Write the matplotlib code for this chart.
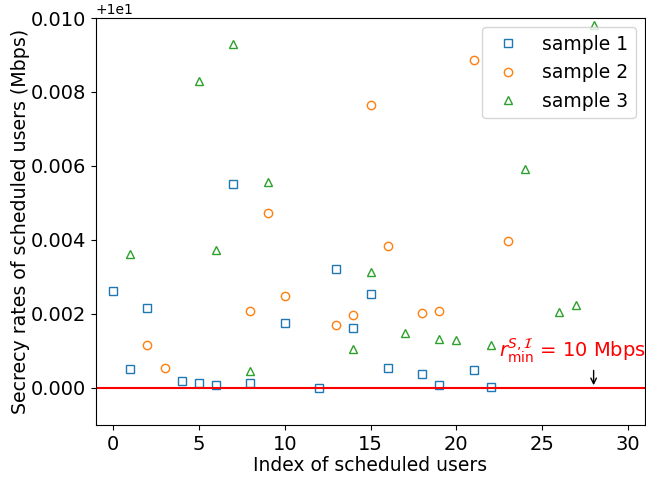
import matplotlib
matplotlib.use("Agg")
import matplotlib.pyplot as plt
import numpy as np

# Secrecy rate above the 10 Mbps floor, in units of 1e-3 Mbps
s1_idx = [0, 1, 2, 4, 5, 6, 7, 8, 10, 12, 13, 14, 15, 16, 18, 19, 21, 22]
s1_val = [2.62, 0.51, 2.16, 0.19, 0.14, 0.08, 5.51, 0.14, 1.76, 0.0, 3.22, 1.62,
          2.54, 0.55, 0.38, 0.08, 0.49, 0.04]

s2_idx = [2, 3, 8, 9, 10, 13, 14, 15, 16, 18, 19, 21, 23]
s2_val = [1.16, 0.55, 2.07, 4.72, 2.49, 1.70, 1.97, 7.64, 3.84, 2.03, 2.08, 8.86, 3.96]

s3_idx = [1, 5, 6, 7, 8, 9, 14, 15, 17, 19, 20, 22, 24, 26, 27, 28]
s3_val = [3.62, 8.30, 3.73, 9.30, 0.46, 5.57, 1.05, 3.14, 1.48, 1.33, 1.30, 1.15,
          5.91, 2.05, 2.24, 9.81]

r_min = 10.0
labels = ["sample 1", "sample 2", "sample 3"]


def rates(vals):
    return r_min + np.array(vals) * 1e-3


fig = plt.figure(figsize=(6.46, 4.8), dpi=100)
ax = fig.add_axes([0.1486, 0.1146, 0.85, 0.8479])

ax.plot(s1_idx, rates(s1_val), "s", mfc="none", mec="tab:blue", label=labels[0])
ax.plot(s2_idx, rates(s2_val), "o", mfc="none", mec="tab:orange", label=labels[1])
ax.plot(s3_idx, rates(s3_val), "^", mfc="none", mec="tab:green", label=labels[2])

ax.axhline(r_min, color="red", lw=1.5)
ax.annotate("", xy=(28, r_min), xytext=(28, r_min + 0.00055),
            arrowprops=dict(arrowstyle="->", color="black", lw=1))
ax.text(22.5, r_min + 0.00062, r"$r_{\min}^{S,\mathcal{I}}$ = 10 Mbps",
        color="red", fontsize=14, ha="left", va="bottom")

ax.set_xlim(-1, 31)
ax.set_ylim(r_min - 0.001, r_min + 0.010)
ax.set_xticks([0, 5, 10, 15, 20, 25, 30])
ax.set_yticks(r_min + np.arange(0, 0.0101, 0.002))
for t in ax.get_xticklabels() + ax.get_yticklabels():
    t.set_fontsize(14)

ax.set_xlabel("Index of scheduled users", fontsize=13.5, labelpad=2)
ax.set_ylabel("Secrecy rates of scheduled users (Mbps)", fontsize=13.7, labelpad=1)
ax.legend(loc="upper right", fontsize=13.5)

fig.savefig("out.png", dpi=100)
